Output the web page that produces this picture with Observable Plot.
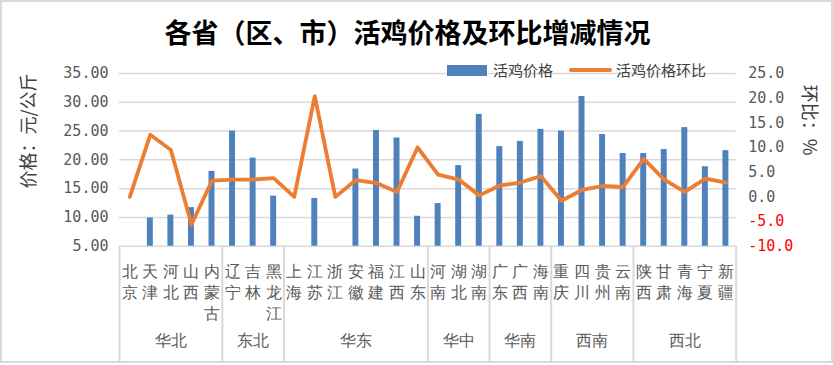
<!DOCTYPE html>
<html>
<head>
<meta charset="utf-8">
<script src="https://cdn.jsdelivr.net/npm/d3@7"></script>
<script src="https://cdn.jsdelivr.net/npm/@observablehq/plot@0.6"></script>
<style>
  body { margin: 0; background: #fff; }
  #wrap { position: relative; width: 833px; height: 365px; overflow: hidden; background: #fff;
          font-family: "Noto Sans CJK SC", "Noto Sans", sans-serif; }
  #wrap svg { position: absolute; left: 0; top: 0; background: transparent; }
  .abs { position: absolute; white-space: nowrap; }
  #title { left: 0; width: 815px; top: 13px; text-align: center; font-size: 27px; font-weight: 700; color: #000; line-height: 38px; }
  .leg { font-size: 15px; color: #404040; line-height: 20px; top: 60px; }
  #border { position: absolute; left: 0; top: 0; width: 833px; height: 363px; box-sizing: border-box;
            border: 2px solid #d9d9d9; pointer-events: none; }
  .ytitle { font-size: 18px; color: #404040; line-height: 24px; }
</style>
</head>
<body>
<div id="wrap">
  <div id="chart"></div>
  <div id="title" class="abs">各省（区、市）活鸡价格及环比增减情况</div>
  <div class="abs" style="left:447px;top:65px;width:40px;height:11px;background:#4f81bd"></div>
  <div class="abs leg" style="left:493px">活鸡价格</div>
  <div class="abs" style="left:569px;top:68px;width:43px;height:4px;border-radius:2px;background:#ed7d31"></div>
  <div class="abs leg" style="left:616px">活鸡价格环比</div>
  <div class="abs ytitle" style="left:27px;top:131px;transform:translate(-50%,-50%) rotate(-90deg)">价格：元/公斤</div>
  <div class="abs ytitle" style="left:811px;top:120px;transform:translate(-50%,-50%) rotate(90deg)">环比：%</div>
  <div id="border"></div>
</div>
<script>
const provinces = ["北京","天津","河北","山西","内蒙古","辽宁","吉林","黑龙江","上海","江苏","浙江","安徽","福建","江西","山东","河南","湖北","湖南","广东","广西","海南","重庆","四川","贵州","云南","陕西","甘肃","青海","宁夏","新疆"];
const prices = [null,9.9,10.4,11.7,18.0,25.0,20.3,13.7,null,13.3,null,18.4,25.1,23.8,10.2,12.4,19.0,27.9,22.3,23.2,25.3,25.0,31.0,24.4,21.1,21.1,21.8,25.6,18.8,21.6];
const changes = [0.0,12.6,9.5,-5.6,3.3,3.5,3.5,3.8,0.0,20.4,0.0,3.4,2.8,1.0,10.0,4.5,3.5,0.3,2.3,2.9,4.2,-0.8,1.4,2.2,2.0,7.7,3.5,1.0,3.7,2.9];
const regionNames = ["华北","东北","华东","华中","华南","西南","西北"];
const regionCounts = [5,3,7,3,3,4,5];
const leftTicks = [5,10,15,20,25,30,35];
const rightTicks = [-10,-5,0,5,10,15,20,25];

// map right axis (%) onto the left axis domain
const toLeft = d3.scaleLinear().domain([-10,25]).range([5,35]);

const rows = provinces.map((name,i) => ({name, i, price: prices[i], chg: changes[i]}));
let acc = 0;
const regions = regionNames.map((name,k) => { const r = {name, start: acc, end: acc + regionCounts[k]}; acc += regionCounts[k]; return r; });
const bounds = [0, ...regions.map(r => r.end)];

const gray = "#595959";
const chart = Plot.plot({
  width: 833,
  height: 365,
  marginTop: 73,
  marginBottom: 119.3,
  marginLeft: 119,
  marginRight: 97.3,
  x: {domain: [0, provinces.length], axis: null, label: null},
  y: {domain: [5, 35], axis: null, label: null},
  style: {background: "transparent"},
  marks: [
    Plot.gridY(leftTicks, {stroke: "#d9d9d9", strokeOpacity: 1, strokeWidth: 1.5}),
    Plot.axisY(leftTicks, {tickSize: 0, tickPadding: 11, tickFormat: d => d.toFixed(2), label: null,
      fontSize: 15, fontFamily: "DejaVu Sans Mono", fill: gray}),
    Plot.text(rightTicks, {y: d => toLeft(d), text: d => d.toFixed(1), frameAnchor: "right",
      textAnchor: "start", dx: 12, fontSize: 15, fontFamily: "DejaVu Sans Mono",
      fill: d => d < 0 ? "#ff0000" : gray}),
    Plot.rectY(rows.filter(d => d.price != null), {x1: d => d.i, x2: d => d.i + 1, y1: 5, y2: "price",
      insetLeft: 7.3, insetRight: 7.3, fill: "#4f81bd"}),
    Plot.line(rows, {x: d => d.i + 0.5, y: d => toLeft(d.chg), stroke: "#ed7d31", strokeWidth: 3.8,
      strokeLinejoin: "round", strokeLinecap: "round"}),
    Plot.ruleX(bounds, {y1: 5, y2: 5, insetBottom: -117, stroke: "#d9d9d9", strokeWidth: 2}),
    Plot.text(rows, {x: d => d.i + 0.5, text: d => d.name.split("").join("\n"), frameAnchor: "bottom",
      lineAnchor: "top", dy: 16, fontSize: 16, lineHeight: 1.3, fill: gray}),
    Plot.text(regions, {x: d => (d.start + d.end) / 2, text: "name", frameAnchor: "bottom",
      dy: 100, fontSize: 16, fill: gray})
  ]
});
document.getElementById("chart").appendChild(chart);
</script>
</body>
</html>
